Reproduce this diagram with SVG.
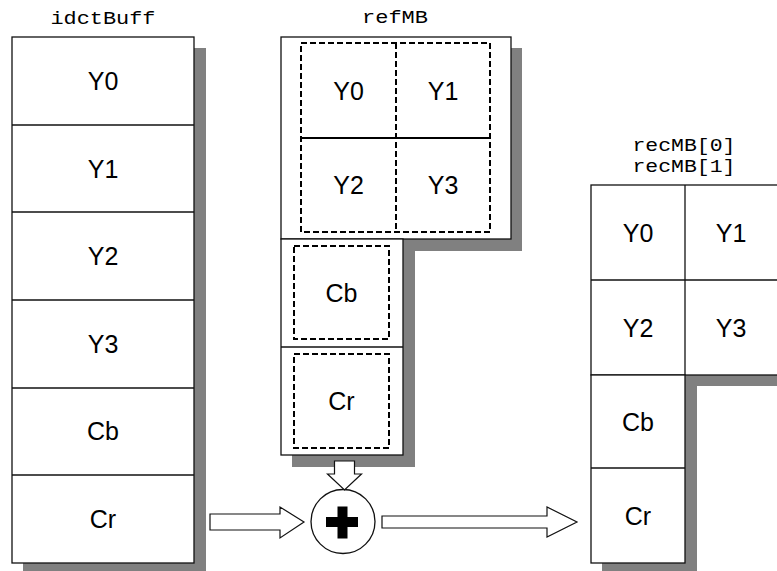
<svg xmlns="http://www.w3.org/2000/svg" width="777" height="571" viewBox="0 0 777 571">
  <style>
    .shadow { fill: #808080; stroke: none; }
    .box { fill: #ffffff; stroke: #111111; stroke-width: 1.3; }
    .line { fill: none; stroke: #111111; stroke-width: 1.3; }
    .dash { fill: none; stroke: #000000; stroke-width: 2; stroke-dasharray: 6 3; }
    .solid2 { fill: none; stroke: #000000; stroke-width: 2; }
    .cell { font-family: "Liberation Sans", Arial, sans-serif; font-size: 25px; fill: #000000; text-anchor: middle; }
    .title { font-family: "Liberation Mono", "Courier New", monospace; font-size: 18.5px; fill: #000000; text-anchor: middle; }
    .arrow { fill: #ffffff; stroke: #111111; stroke-width: 1.2; stroke-linejoin: miter; }
  </style>

  <rect width="777" height="571" fill="#ffffff"/>

  <!-- IDCT output buffer: six stacked blocks -->
  <g id="idctBuff">
    <text class="title" x="103" y="24" textLength="105" lengthAdjust="spacingAndGlyphs">idctBuff</text>
    <rect class="shadow" x="23" y="48" width="183" height="530"/>
    <rect class="box" x="12" y="37" width="182" height="526"/>
    <line class="line" x1="12" y1="125" x2="194" y2="125"/>
    <line class="line" x1="12" y1="212" x2="194" y2="212"/>
    <line class="line" x1="12" y1="300" x2="194" y2="300"/>
    <line class="line" x1="12" y1="388" x2="194" y2="388"/>
    <line class="line" x1="12" y1="475" x2="194" y2="475"/>
    <text class="cell" x="103" y="90">Y0</text>
    <text class="cell" x="103" y="178">Y1</text>
    <text class="cell" x="103" y="265">Y2</text>
    <text class="cell" x="103" y="353">Y3</text>
    <text class="cell" x="103" y="440">Cb</text>
    <text class="cell" x="103" y="528">Cr</text>
  </g>

  <!-- reference macroblock: luma square plus two chroma blocks -->
  <g id="refMB">
    <text class="title" x="395" y="23" textLength="66" lengthAdjust="spacingAndGlyphs">refMB</text>
    <rect class="shadow" x="292" y="48" width="230" height="203"/>
    <rect class="shadow" x="292" y="250" width="123" height="217"/>
    <rect class="box" x="281" y="37" width="230" height="202"/>
    <rect class="box" x="281" y="239" width="122" height="216"/>
    <line class="line" x1="281" y1="347" x2="403" y2="347"/>
    <rect class="dash" x="301" y="43" width="189" height="189"/>
    <line class="dash" x1="396" y1="43" x2="396" y2="232"/>
    <line class="solid2" x1="301" y1="138" x2="490" y2="138"/>
    <rect class="dash" x="294" y="246" width="95" height="93"/>
    <rect class="dash" x="294" y="354" width="95" height="94"/>
    <text class="cell" x="348.5" y="99.5">Y0</text>
    <text class="cell" x="443" y="99.5">Y1</text>
    <text class="cell" x="348.5" y="194">Y2</text>
    <text class="cell" x="443" y="194">Y3</text>
    <text class="cell" x="341.5" y="301.5">Cb</text>
    <text class="cell" x="341.5" y="410">Cr</text>
  </g>

  <!-- adder -->
  <g id="adder">
    <circle class="box" cx="343" cy="521.5" r="32"/>
    <rect x="326" y="517" width="32" height="10" fill="#000000"/>
    <rect x="337.5" y="506.5" width="10" height="32" fill="#000000"/>
  </g>

  <!-- reconstructed macroblock -->
  <g id="recMB">
    <text class="title" x="684" y="151" textLength="103" lengthAdjust="spacingAndGlyphs">recMB[0]</text>
    <text class="title" x="684" y="172" textLength="103" lengthAdjust="spacingAndGlyphs">recMB[1]</text>
    <rect class="shadow" x="602" y="196" width="190" height="190"/>
    <rect class="shadow" x="602" y="385" width="95" height="190"/>
    <rect class="box" x="591" y="185" width="188" height="190"/>
    <line class="line" x1="685" y1="185" x2="685" y2="375"/>
    <line class="line" x1="591" y1="280" x2="779" y2="280"/>
    <rect class="box" x="591" y="375" width="94" height="188"/>
    <line class="line" x1="591" y1="468" x2="685" y2="468"/>
    <text class="cell" x="638" y="241.5">Y0</text>
    <text class="cell" x="731" y="241.5">Y1</text>
    <text class="cell" x="638" y="336.5">Y2</text>
    <text class="cell" x="731" y="336.5">Y3</text>
    <text class="cell" x="638" y="430.5">Cb</text>
    <text class="cell" x="638" y="524.5">Cr</text>
  </g>

  <!-- block arrows between stages -->
  <g id="connectors">
    <polygon class="arrow" points="210,514 280,514 280,507 304,522 280,538 280,530 210,530"/>
    <polygon class="arrow" points="382,516 547,516 547,507 577,522 547,537 547,528 382,528"/>
    <polygon class="arrow" points="334.5,461 354.5,461 354.5,474 361.5,474 344.5,490 327.5,474 334.5,474"/>
  </g>
</svg>
